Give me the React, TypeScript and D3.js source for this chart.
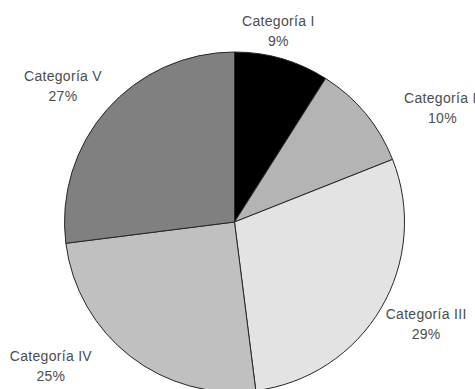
import { useEffect, useRef } from "react";
import * as d3 from "d3";

const categories = ["Categoría I", "Categoría II", "Categoría III", "Categoría IV", "Categoría V"];
const values = [9, 10, 29, 25, 27];
const fills = ["#000000", "#b4b4b4", "#e3e3e3", "#c0c0c0", "#808080"];

// small per-label nudges (mimics the spreadsheet's label placement)
const labelNudge: [number, number][] = [
  [-17, -3],
  [40, 10],
  [4, -1],
  [-50, -14],
  [-8, -7],
];

const width = 475;
const height = 389;

export default function App() {
  const svgRef = useRef<SVGSVGElement>(null);

  useEffect(() => {
    if (!svgRef.current) return;
    const svg = d3.select(svgRef.current);
    svg.selectAll("*").remove();

    const cx = 234.5;
    const cy = 222;
    const radius = 170;

    const data = categories.map((c, i) => ({ name: c, value: values[i], fill: fills[i] }));
    const pie = d3
      .pie<{ name: string; value: number; fill: string }>()
      .value((d) => d.value)
      .sort(null);
    const arcs = pie(data);
    const arc = d3
      .arc<d3.PieArcDatum<{ name: string; value: number; fill: string }>>()
      .innerRadius(0)
      .outerRadius(radius);

    const g = svg.append("g").attr("transform", `translate(${cx},${cy})`);

    g.selectAll("path")
      .data(arcs)
      .enter()
      .append("path")
      .attr("d", arc)
      .attr("fill", (d) => d.data.fill)
      .attr("stroke", "#262626")
      .attr("stroke-width", 1);

    // labels outside the pie
    const total = d3.sum(values);
    const boxW = 80;
    const boxH = 40;
    const gap = 8;
    const labels = g
      .selectAll("g.label")
      .data(arcs)
      .enter()
      .append("g")
      .attr("class", "label")
      .attr("transform", (d, i) => {
        const mid = (d.startAngle + d.endAngle) / 2;
        const s = Math.sin(mid);
        const c = Math.cos(mid);
        const x = (radius + gap) * s + (boxW / 2) * s + labelNudge[i][0];
        const y = -(radius + gap) * c - (boxH / 2) * c + labelNudge[i][1];
        return `translate(${x},${y})`;
      });

    labels
      .append("text")
      .attr("y", -3)
      .attr("text-anchor", "middle")
      .attr("font-family", "Liberation Sans, Arial, sans-serif")
      .attr("font-size", "14px")
      .attr("letter-spacing", "0.3px")
      .attr("fill", "#4d4d4d")
      .text((d) => d.data.name);

    labels
      .append("text")
      .attr("y", 17)
      .attr("text-anchor", "middle")
      .attr("font-family", "Liberation Sans, Arial, sans-serif")
      .attr("font-size", "14px")
      .attr("letter-spacing", "0.3px")
      .attr("fill", "#4d4d4d")
      .text((d) => `${Math.round((d.data.value / total) * 100)}%`);
  }, []);

  return (
    <svg
      ref={svgRef}
      width={width}
      height={height}
      style={{ position: "absolute", left: 0, top: 0, background: "#fff" }}
    />
  );
}
